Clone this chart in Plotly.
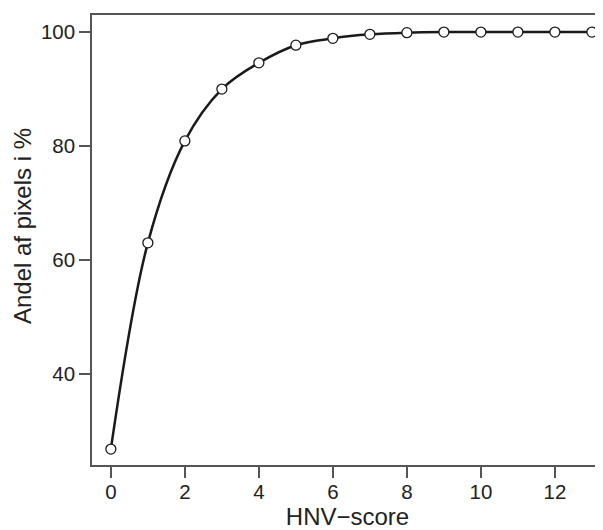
import plotly.graph_objects as go

hnv_score = [0, 1, 2, 3, 4, 5, 6, 7, 8, 9, 10, 11, 12, 13]
andel_pct = [26.8, 63.0, 80.9, 90.0, 94.6, 97.7, 98.9, 99.6, 99.9, 100, 100, 100, 100, 100]
x_ticks = [0, 2, 4, 6, 8, 10, 12]
y_ticks = [40, 60, 80, 100]

FONT = "Liberation Sans, Arial, sans-serif"

fig = go.Figure()
fig.add_trace(go.Scatter(
    x=hnv_score, y=andel_pct, mode="lines+markers",
    line=dict(color="#1a1a1a", width=2.5, shape="spline", smoothing=1.0),
    marker=dict(size=10, color="white", line=dict(color="#1a1a1a", width=1.3)),
    showlegend=False, hoverinfo="x+y",
))

axis_common = dict(
    showgrid=False, zeroline=False, showline=True, linecolor="#555555", linewidth=1.5,
    mirror=True, ticks="outside", ticklen=11, tickwidth=1.5, tickcolor="#555555",
    tickfont=dict(family=FONT, size=20.5, color="#222222"), automargin=False,
)
fig.update_xaxes(range=[-0.51, 13.3], tickvals=x_ticks, ticklabelstandoff=-3, **axis_common,
                 title=dict(text="HNV\u2212score", font=dict(family=FONT, size=24, color="#222222"), standoff=6))
fig.update_yaxes(range=[24.0, 103.0], tickvals=y_ticks, **axis_common)

fig.add_annotation(
    text="Andel af pixels i %", xref="paper", yref="paper", x=-0.137, y=0.531,
    xanchor="center", yanchor="middle", textangle=-90, showarrow=False,
    font=dict(family=FONT, size=24, color="#222222"),
)

# page body has an 8px default margin, so the figure is shrunk by 8px to fit the window
fig.update_layout(
    width=595, height=522,
    margin=dict(l=84, r=0, t=7, b=65),
    plot_bgcolor="white", paper_bgcolor="white",
)
fig.write_html("out.html")
